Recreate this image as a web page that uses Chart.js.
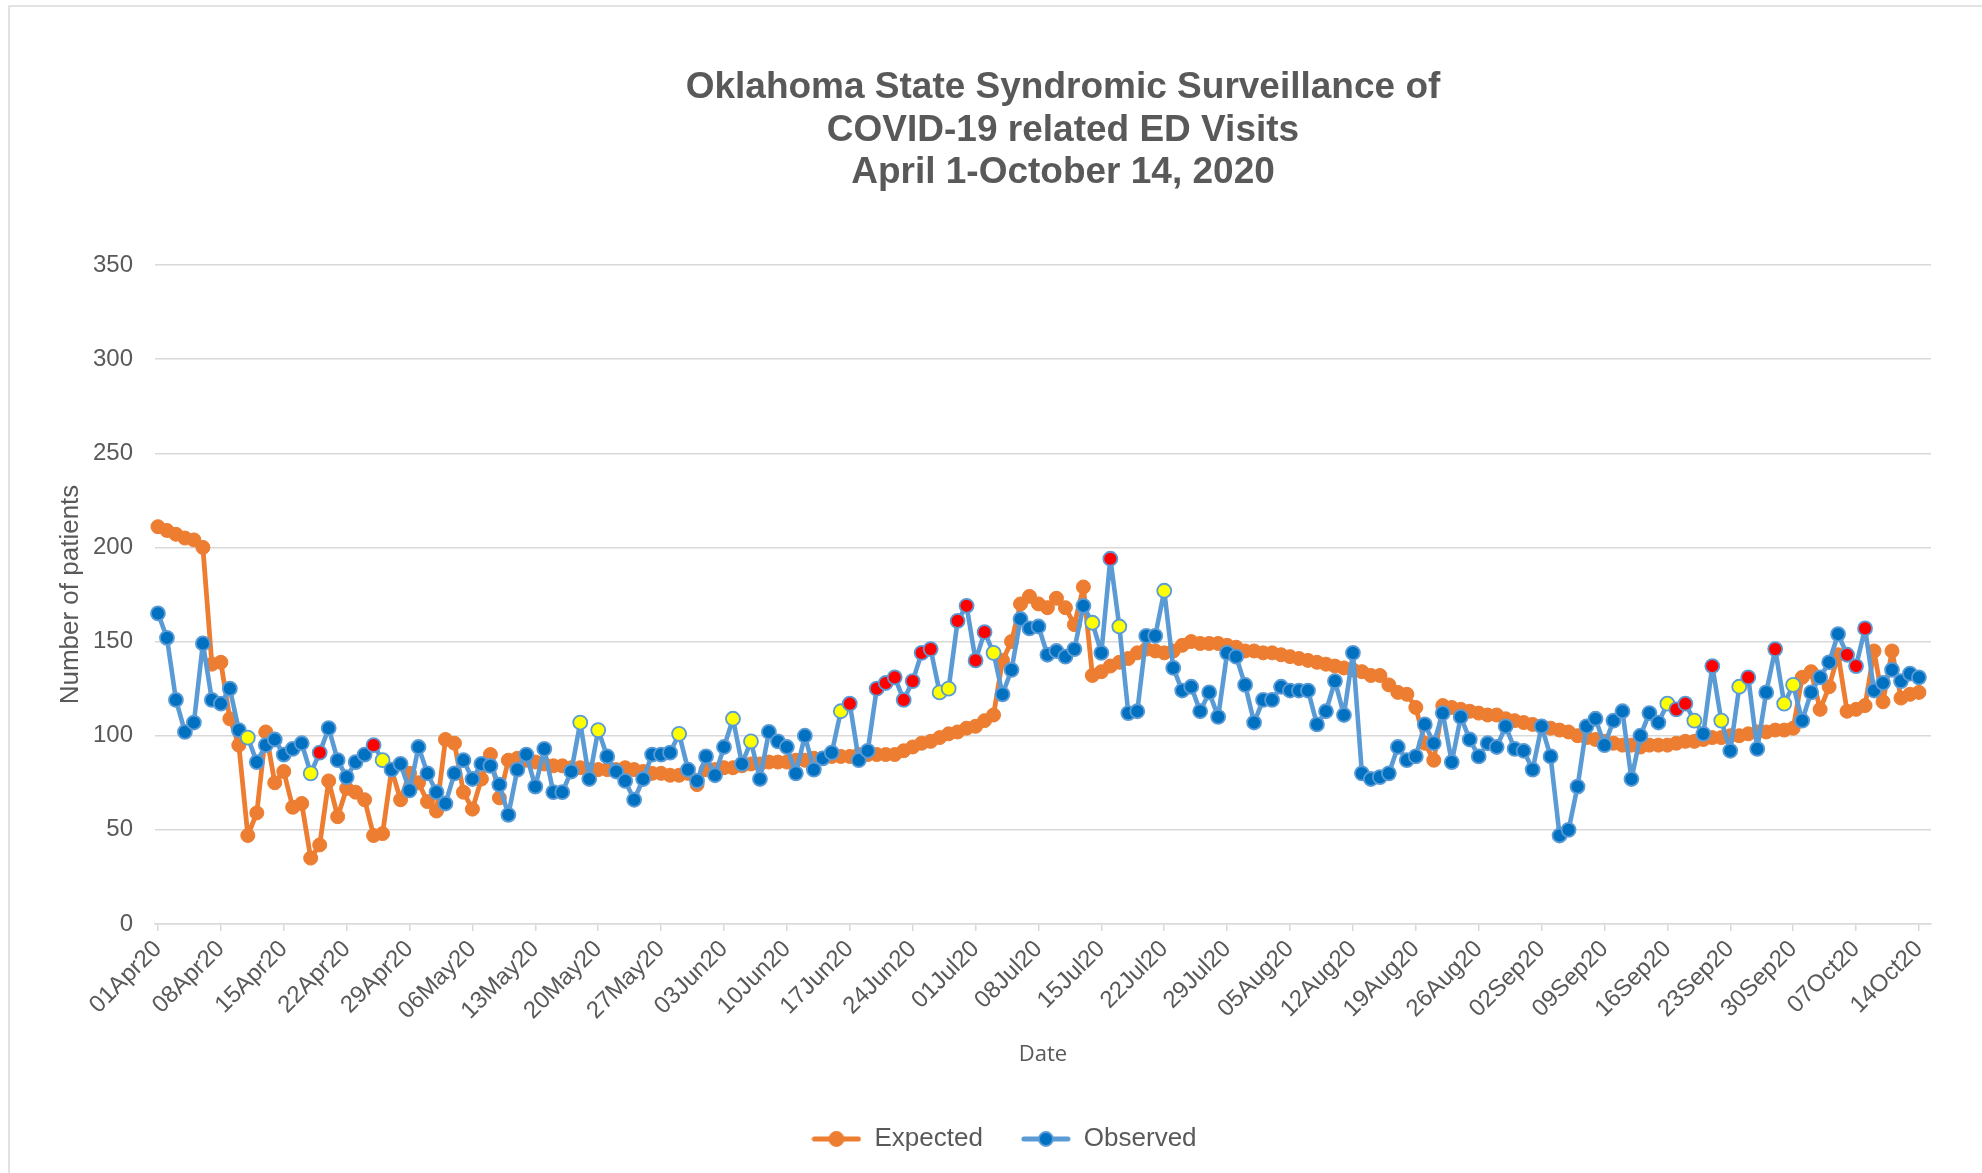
<!DOCTYPE html>
<html>
<head>
<meta charset="utf-8">
<title>Oklahoma Syndromic Surveillance - COVID-19 ED Visits</title>
<script src="https://cdn.jsdelivr.net/npm/chart.js@4.4.1/dist/chart.umd.min.js"></script>
<style>
  html, body { margin: 0; padding: 0; background: #fff; }
  #wrap { width: 1982px; height: 1173px; position: relative; }
</style>
</head>
<body>
<div id="wrap"><canvas id="edChart"></canvas></div>
<script>
const titleLines = ["Oklahoma State Syndromic Surveillance of", "COVID-19 related ED Visits", "April 1-October 14, 2020"];

// one label per week, the axis has a tick every 7 days (day 0 = 01Apr20)
const weekLabels = [
  "01Apr20", "08Apr20", "15Apr20", "22Apr20", "29Apr20", "06May20", "13May20", "20May20",
  "27May20", "03Jun20", "10Jun20", "17Jun20", "24Jun20", "01Jul20", "08Jul20", "15Jul20",
  "22Jul20", "29Jul20", "05Aug20", "12Aug20", "19Aug20", "26Aug20", "02Sep20", "09Sep20",
  "16Sep20", "23Sep20", "30Sep20", "07Oct20", "14Oct20",
];

// daily values, 01Apr20 .. 14Oct20
const expected = [
  211, 209, 207, 205, 204, 200, 138, 139, 109, 95, 47, 59, 102, 75,
  81, 62, 64, 35, 42, 76, 57, 72, 70, 66, 47, 48, 82, 66,
  80, 75, 65, 60, 98, 96, 70, 61, 77, 90, 67, 87, 88, 87,
  86, 85, 84, 84, 83, 83, 82, 82, 82, 82, 83, 82, 81, 80,
  80, 79, 79, 80, 74, 82, 82, 83, 83, 84, 85, 85, 86, 86,
  86, 87, 87, 88, 88, 89, 89, 89, 90, 90, 90, 90, 90, 92,
  94, 96, 97, 99, 101, 102, 104, 105, 108, 111, 140, 150, 170, 174,
  170, 168, 173, 168, 159, 179, 132, 134, 137, 139, 141, 144, 146, 145,
  144, 145, 148, 150, 149, 149, 149, 148, 147, 145, 145, 144, 144, 143,
  142, 141, 140, 139, 138, 137, 136, 135, 134, 132, 132, 127, 123, 122,
  115, 96, 87, 116, 115, 114, 113, 112, 111, 111, 109, 108, 107, 106,
  105, 104, 103, 102, 100, 99, 98, 97, 96, 95, 95, 94, 95, 95,
  95, 96, 97, 97, 98, 99, 99, 100, 100, 101, 102, 102, 103, 103,
  104, 131, 134, 114, 126, 143, 113, 114, 116, 145, 118, 145, 120, 122,
  123,
];

const observed = [
  165, 152, 119, 102, 107, 149, 119, 117, 125, 103, 99, 86, 95, 98,
  90, 93, 96, 80, 91, 104, 87, 78, 86, 90, 95, 87, 82, 85,
  71, 94, 80, 70, 64, 80, 87, 77, 85, 84, 74, 58, 82, 90,
  73, 93, 70, 70, 81, 107, 77, 103, 89, 81, 76, 66, 77, 90,
  90, 91, 101, 82, 76, 89, 79, 94, 109, 85, 97, 77, 102, 97,
  94, 80, 100, 82, 88, 91, 113, 117, 87, 92, 125, 128, 131, 119,
  129, 144, 146, 123, 125, 161, 169, 140, 155, 144, 122, 135, 162, 157,
  158, 143, 145, 142, 146, 169, 160, 144, 194, 158, 112, 113, 153, 153,
  177, 136, 124, 126, 113, 123, 110, 144, 142, 127, 107, 119, 119, 126,
  124, 124, 124, 106, 113, 129, 111, 144, 80, 77, 78, 80, 94, 87,
  89, 106, 96, 112, 86, 110, 98, 89, 96, 94, 105, 93, 92, 82,
  105, 89, 47, 50, 73, 105, 109, 95, 108, 113, 77, 100, 112, 107,
  117, 114, 117, 108, 101, 137, 108, 92, 126, 131, 93, 123, 146, 117,
  127, 108, 123, 131, 139, 154, 143, 137, 157, 124, 128, 135, 129, 133,
  131,
];

// days whose observed marker is flagged (day index from 01Apr20)
const redDays = [18, 24, 77, 80, 81, 82, 83, 84, 85, 86, 89, 90, 91, 92, 106, 169, 170, 173, 177, 180, 188, 189, 190];
const yellowDays = [10, 17, 25, 47, 49, 58, 64, 66, 76, 87, 88, 93, 104, 107, 112, 168, 171, 174, 176, 181, 182];

const grey = "#595959";
const orange = "#ED7D31";
const blueLine = "#5B9BD5";
const blueDot = "#0070C0";

Chart.defaults.font.family = "'Liberation Sans', Arial, sans-serif";
Chart.defaults.color = grey;

const toPoints = (values) => values.map((y, x) => ({ x, y }));

function legendIcon(line, fill, edge) {
  const icon = document.createElement("canvas");
  icon.width = 50;
  icon.height = 20;
  const c = icon.getContext("2d");
  c.strokeStyle = line;
  c.lineWidth = 5;
  c.lineCap = "round";
  c.beginPath();
  c.moveTo(3, 10);
  c.lineTo(47, 10);
  c.stroke();
  c.beginPath();
  c.arc(25, 10, 7, 0, Math.PI * 2);
  c.fillStyle = fill;
  c.fill();
  c.lineWidth = 1.8;
  c.strokeStyle = edge;
  c.stroke();
  return icon;
}
const legendIcons = [legendIcon(orange, orange, orange), legendIcon(blueLine, blueDot, blueLine)];

const frameAndTitle = {
  id: "frameAndTitle",
  beforeDraw(chart) {
    const { ctx } = chart;
    ctx.save();
    ctx.fillStyle = "#fff";
    ctx.fillRect(0, 0, chart.width, chart.height);
    ctx.strokeStyle = "#d9d9d9";
    ctx.lineWidth = 1.5;
    ctx.beginPath();
    ctx.moveTo(9, chart.height);
    ctx.lineTo(9, 6);
    ctx.lineTo(chart.width, 6);
    ctx.stroke();
    ctx.restore();
  },
  afterDraw(chart) {
    const { ctx } = chart;
    ctx.save();
    ctx.fillStyle = grey;
    ctx.font = "bold 37px 'Liberation Sans', Arial, sans-serif";
    ctx.textAlign = "center";
    ctx.textBaseline = "middle";
    titleLines.forEach((line, i) => ctx.fillText(line, 1063, 88 + i * 42.5));
    ctx.restore();
  },
};

function markerColor(context) {
  if (redDays.includes(context.dataIndex)) return "#FF0000";
  if (yellowDays.includes(context.dataIndex)) return "#FFFF00";
  return blueDot;
}

new Chart(document.getElementById("edChart"), {
  type: "line",
  data: {
    datasets: [
      {
        label: "Expected",
        data: toPoints(expected),
        borderColor: orange,
        borderWidth: 4.8,
        borderJoinStyle: "round",
        borderCapStyle: "round",
        pointRadius: 7,
        pointBackgroundColor: orange,
        pointBorderColor: orange,
        pointBorderWidth: 1,
        clip: false,
        order: 2,
      },
      {
        label: "Observed",
        data: toPoints(observed),
        borderColor: blueLine,
        borderWidth: 4.6,
        borderJoinStyle: "round",
        borderCapStyle: "round",
        pointRadius: 7,
        pointBackgroundColor: markerColor,
        pointBorderColor: blueLine,
        pointBorderWidth: 1.8,
        clip: false,
        order: 1,
      },
    ],
  },
  options: {
    responsive: true,
    maintainAspectRatio: false,
    animation: false,
    layout: { padding: { left: 26, right: 0, top: 265, bottom: 11 } },
    plugins: {
      title: { display: false },
      tooltip: { enabled: false },
      legend: {
        position: "bottom",
        labels: {
          usePointStyle: true,
          pointStyleWidth: 50,
          padding: 38,
          color: grey,
          font: { size: 26 },
          sort: (a, b) => a.datasetIndex - b.datasetIndex,
          generateLabels(chart) {
            const items = Chart.defaults.plugins.legend.labels.generateLabels(chart);
            items.forEach((item) => { item.pointStyle = legendIcons[item.datasetIndex]; });
            return items;
          },
        },
      },
    },
    scales: {
      x: {
        type: "linear",
        min: -0.33,
        max: 197.34,
        afterBuildTicks(scale) {
          scale.ticks = weekLabels.map((_, i) => ({ value: i * 7 }));
        },
        afterFit(scale) { scale.height = 164; },
        grid: { drawOnChartArea: false, color: "#d9d9d9", lineWidth: 1.5, tickLength: 7 },
        border: { color: "#d9d9d9", width: 1.5 },
        ticks: {
          autoSkip: false,
          maxRotation: 45,
          minRotation: 45,
          padding: 4,
          color: grey,
          font: { size: 24 },
          callback: (value) => weekLabels[value / 7],
        },
        title: {
          display: true,
          text: "Date",
          color: grey,
          font: { family: "'Open Sans', sans-serif", size: 22, lineHeight: 1.2 },
          padding: { top: 0, bottom: 20 },
        },
      },
      y: {
        position: "left",
        min: 0,
        max: 350,
        afterFit(scale) { scale.width = 129; },
        grid: { color: "#d9d9d9", lineWidth: 1.5, drawTicks: false },
        border: { display: false },
        ticks: { stepSize: 50, padding: 22, color: grey, font: { size: 24 } },
        title: {
          display: true,
          text: "Number of patients",
          color: grey,
          font: { size: 26, lineHeight: 1.2 },
          padding: { top: 29, bottom: 0 },
        },
      },
      yRight: {
        position: "right",
        display: true,
        afterFit(scale) { scale.width = 51; },
        grid: { display: false },
        border: { display: false },
        ticks: { display: false },
      },
    },
  },
  plugins: [frameAndTitle],
});
</script>
</body>
</html>
